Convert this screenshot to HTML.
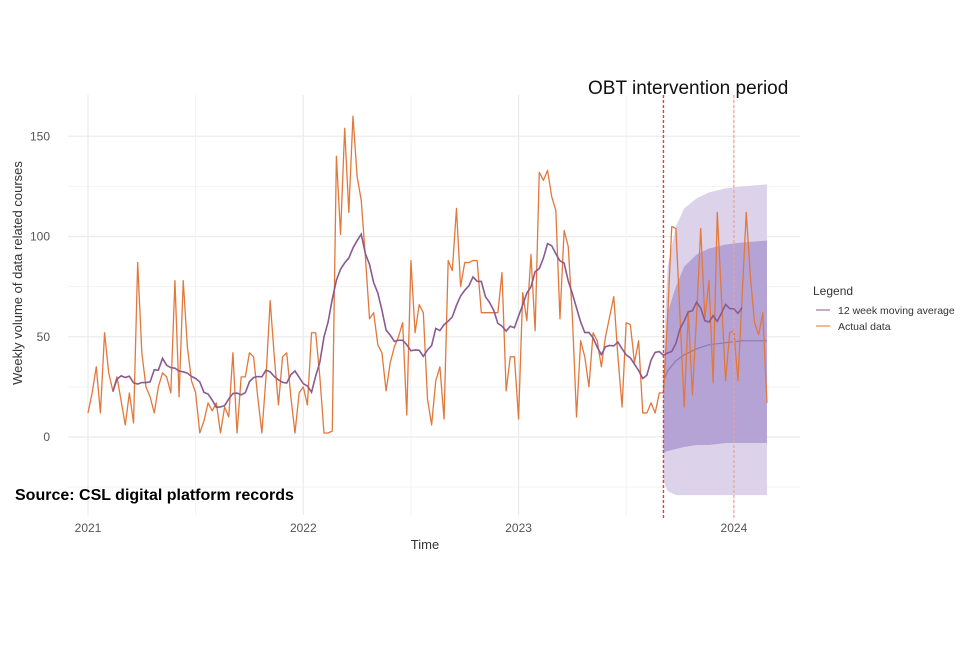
<!DOCTYPE html>
<html><head><meta charset="utf-8"><style>
body{margin:0;background:#fff;width:960px;height:640px;overflow:hidden;font-family:"Liberation Sans",sans-serif}
</style></head><body>
<svg id="chart" width="960" height="640" xmlns="http://www.w3.org/2000/svg" font-family="Liberation Sans, sans-serif">
<g id="grid"></g>
<g id="bands"></g>
<g id="series"></g>
<g id="axes"></g>
<text transform="translate(22,273) rotate(-90)" text-anchor="middle" font-size="13" fill="#333">Weekly volume of data related courses</text>
<text x="425" y="549" text-anchor="middle" font-size="13" fill="#333">Time</text>
<text x="588" y="94" font-size="19" fill="#111">OBT intervention period</text>
<text x="15" y="500" font-size="16" font-weight="bold" fill="#000">Source: CSL digital platform records</text>
<g>
<text x="813" y="295" font-size="12" fill="#333">Legend</text>
<line x1="816" y1="310" x2="830" y2="310" stroke="#b48fb4" stroke-width="1.5"/>
<text x="838" y="314" font-size="10.5" fill="#333">12 week moving average</text>
<line x1="816" y1="326" x2="830" y2="326" stroke="#f0a070" stroke-width="1.5"/>
<text x="838" y="330" font-size="10.5" fill="#333">Actual data</text>
</g>
</svg>
<script>
const actual=[12,22,35,12,52,32,23,30,18,6,22,7,87,42,25,20,12,25,32,30,22,78,20,78,45,28,22,2,8,17,13,17,2,15,10,42,2,30,30,42,40,20,2,30,68,40,16,40,42,20,2,22,25,16,52,52,30,2,2,3,140,101,154,112,160,130,118,90,59,62,46,42,23,37,45,50,57,11,88,52,66,62,19,6,28,35,9,88,83,114,75,87,87,88,88,62,62,62,62,62,82,23,40,40,9,72,58,91,53,132,128,133,120,113,59,103,95,60,10,48,40,25,52,48,35,50,60,70,40,15,57,56,37,48,12,12,17,12,22,22,60,105,104,60,15,62,21,60,104,59,78,27,112,70,28,52,53,28,70,112,80,57,51,62,17];
const fcWeeks=[139,140,142,144,147,150,154,158,164];
const fcMean=[28,33,38,41,44,46,47,48,48];
const fcInnerUp=[30,62,75,85,91,94,96,97,98];
const fcInnerLo=[-8,-7,-6,-5,-4,-4,-3,-3,-3];
const fcOuterUp=[40,85,105,114,119,122,124,125,126];
const fcOuterLo=[-22,-27,-29,-29,-29,-29,-29,-29,-29];
const yTicks=[0,50,100,150];
const yMinor=[-25,25,75,125];
const xYears=["2021","2022","2023","2024"];
const interventionWeek=139;
const maWindow=12;
const NS="http://www.w3.org/2000/svg";
const X=w=>88+w*4.14;
const XY=i=>88+i*215.3;
const Y=v=>437-v*2.005;
function mk(t,a,p){const e=document.createElementNS(NS,t);for(const k in a)e.setAttribute(k,a[k]);p.appendChild(e);return e;}
const grid=document.getElementById('grid'),axes=document.getElementById('axes'),bands=document.getElementById('bands'),series=document.getElementById('series');
const pTop=95,pBot=515,pLeft=68,pRight=800;
yMinor.forEach(v=>{const l=mk('line',{x1:pLeft,x2:pRight,y1:Y(v),y2:Y(v),stroke:'#f3f3f3','stroke-width':1},grid);

});
yTicks.forEach(v=>{const l=mk('line',{x1:pLeft,x2:pRight,y1:Y(v),y2:Y(v),stroke:'#ebebeb','stroke-width':1.2},grid);


const t=mk('text',{x:50,y:Y(v)+4,'text-anchor':'end','font-size':12,fill:'#555'},axes);t.textContent=v;

});
xYears.forEach((s,i)=>{const l=mk('line',{x1:XY(i),x2:XY(i),y1:pTop,y2:pBot,stroke:'#ebebeb','stroke-width':1.2},grid);


if(i<3){const m=mk('line',{x1:XY(i+0.5),x2:XY(i+0.5),y1:pTop,y2:pBot,stroke:'#f3f3f3','stroke-width':1},grid);

}
const t=mk('text',{x:XY(i),y:532,'text-anchor':'middle','font-size':12,fill:'#555'},axes);t.textContent=s;

});
function band(up,lo,fill,name){let d='M'+fcWeeks.map((w,i)=>X(w)+','+Y(up[i])).join('L');
for(let i=fcWeeks.length-1;i>=0;i--)d+='L'+X(fcWeeks[i])+','+Y(lo[i]);
const p=mk('path',{d:d+'Z',fill:fill},bands);

}
band(fcOuterUp,fcOuterLo,'#dcd3ea','forecast-outer-band');
band(fcInnerUp,fcInnerLo,'#b6a3d5','forecast-inner-band');
const fm=mk('path',{d:'M'+fcWeeks.map((w,i)=>X(w)+','+Y(fcMean[i])).join('L'),fill:'none',stroke:'#8f7bb8','stroke-width':1.3},series);


const ap=mk('path',{d:'M'+actual.map((v,i)=>X(i)+','+Y(v)).join('L'),fill:'none',stroke:'#e2783c','stroke-width':1.3,'stroke-linejoin':'round'},series);


const ma=[];for(let i=6;i<=actual.length-7;i++){let s=0;for(let j=i-6;j<i+6;j++)s+=actual[j];ma.push([i,s/maWindow]);}
const mp=mk('path',{d:'M'+ma.map(p=>X(p[0])+','+Y(p[1])).join('L'),fill:'none',stroke:'#8a5a90','stroke-width':1.6},series);


const v1=mk('line',{x1:X(interventionWeek),x2:X(interventionWeek),y1:pTop,y2:520,stroke:'#d9423a','stroke-width':1.4,'stroke-dasharray':'3,2'},series);


const v2=mk('line',{x1:XY(3),x2:XY(3),y1:pTop,y2:520,stroke:'#f0a090','stroke-width':1.2,'stroke-dasharray':'3,2'},series);


</script>
</body></html>
